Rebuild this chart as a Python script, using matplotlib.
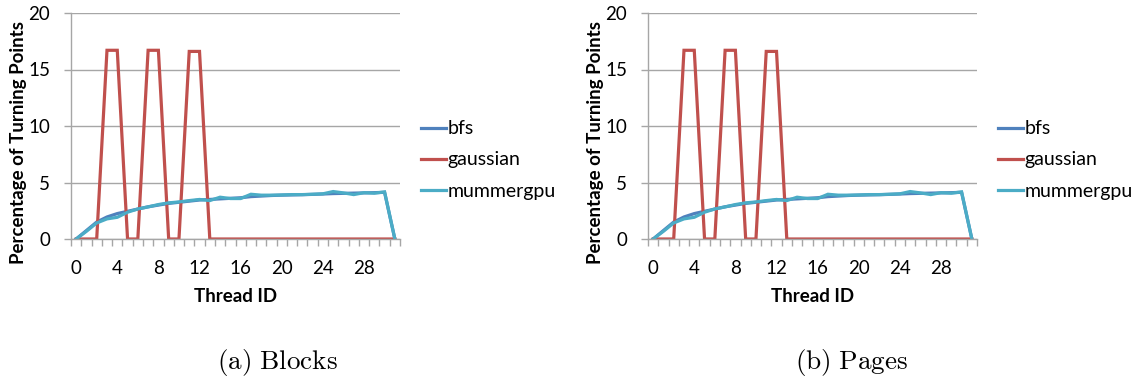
import numpy as np
import matplotlib.pyplot as plt

plt.rcParams["font.family"] = ["Lato", "DejaVu Sans"]
plt.rcParams["mathtext.fontset"] = "cm"

thread_ids = list(range(32))

bfs = [0.0, 0.75, 1.5, 1.95, 2.25, 2.45, 2.65, 2.85, 3.0, 3.15, 3.25, 3.35,
       3.45, 3.5, 3.55, 3.6, 3.65, 3.75, 3.8, 3.85, 3.88, 3.9, 3.92, 3.95,
       3.98, 4.02, 4.04, 4.06, 4.08, 4.1, 4.13, 0.0]
gaussian = [0, 0, 0, 16.7, 16.7, 0, 0, 16.7, 16.7, 0, 0, 16.6, 16.6, 0, 0, 0,
            0, 0, 0, 0, 0, 0, 0, 0, 0, 0, 0, 0, 0, 0, 0, 0]
mummergpu = [0.0, 0.68, 1.42, 1.78, 1.92, 2.37, 2.66, 2.84, 3.05, 3.2, 3.28,
             3.4, 3.5, 3.4, 3.7, 3.58, 3.58, 3.96, 3.88, 3.88, 3.9, 3.93, 3.93,
             3.96, 4.0, 4.2, 4.08, 3.93, 4.1, 4.05, 4.17, 0.0]

series = [("bfs", bfs, "#4F81BD"),
          ("gaussian", gaussian, "#C0504D"),
          ("mummergpu", mummergpu, "#4BACC6")]
captions = [r"$\mathrm{(a)\ Blocks}$", r"$\mathrm{(b)\ Pages}$"]

W, H = 1138, 385
fig = plt.figure(figsize=(W / 100, H / 100), dpi=100)

grid_col = "#A6A6A6"
# axis left/right edge, legend left edge, caption centre (pixels)
panels = [(71, 400, 421, 277), (648, 977, 998, 852)]

for (x0, x1, leg_x, cap_x), cap in zip(panels, captions):
    ax = fig.add_axes([x0 / W, (H - 239) / H, (x1 - x0) / W, 226 / H])
    for name, vals, col in series:
        ax.plot(thread_ids, vals, color=col, lw=2.3, label=name,
                solid_joinstyle="miter")

    ax.set_xlim(-0.5, 31.5)
    ax.set_ylim(0, 20)
    ax.set_yticks([0, 5, 10, 15, 20])
    ax.set_xticks(range(0, 32, 4))
    ax.set_xticks(np.arange(-0.5, 32, 1), minor=True)
    ax.tick_params(axis="x", which="major", length=0, pad=15, labelsize=13.5)
    ax.tick_params(axis="x", which="minor", length=5, color=grid_col, width=1)
    ax.tick_params(axis="y", length=5, color=grid_col, width=1, pad=10,
                   labelsize=13.5)
    ax.yaxis.grid(True, color=grid_col, lw=1)
    ax.set_axisbelow(True)
    for s in ("top", "right"):
        ax.spines[s].set_visible(False)
    for s in ("left", "bottom"):
        ax.spines[s].set_color(grid_col)
        ax.spines[s].set_linewidth(1)

    ax.set_xlabel("Thread ID", fontsize=13.5, fontweight="bold", va="center")
    ax.xaxis.set_label_coords(0.5, (239 - 297) / 226)
    ax.set_ylabel("Percentage of Turning Points", fontsize=13.5,
                  fontweight="bold", va="center")
    ax.yaxis.set_label_coords(-52 / (x1 - x0), (239 - 142) / 226)

    ax.legend(loc="center left", bbox_to_anchor=(leg_x / W, 1 - 160 / H),
              bbox_transform=fig.transFigure, frameon=False, fontsize=14,
              handlelength=1.3, handletextpad=0.05, labelspacing=0.72,
              borderpad=0, borderaxespad=0)

    fig.text(cap_x / W, 1 - 362 / H, cap, ha="center", va="center",
             fontsize=19.5)

fig.savefig("out.png", dpi=100)
